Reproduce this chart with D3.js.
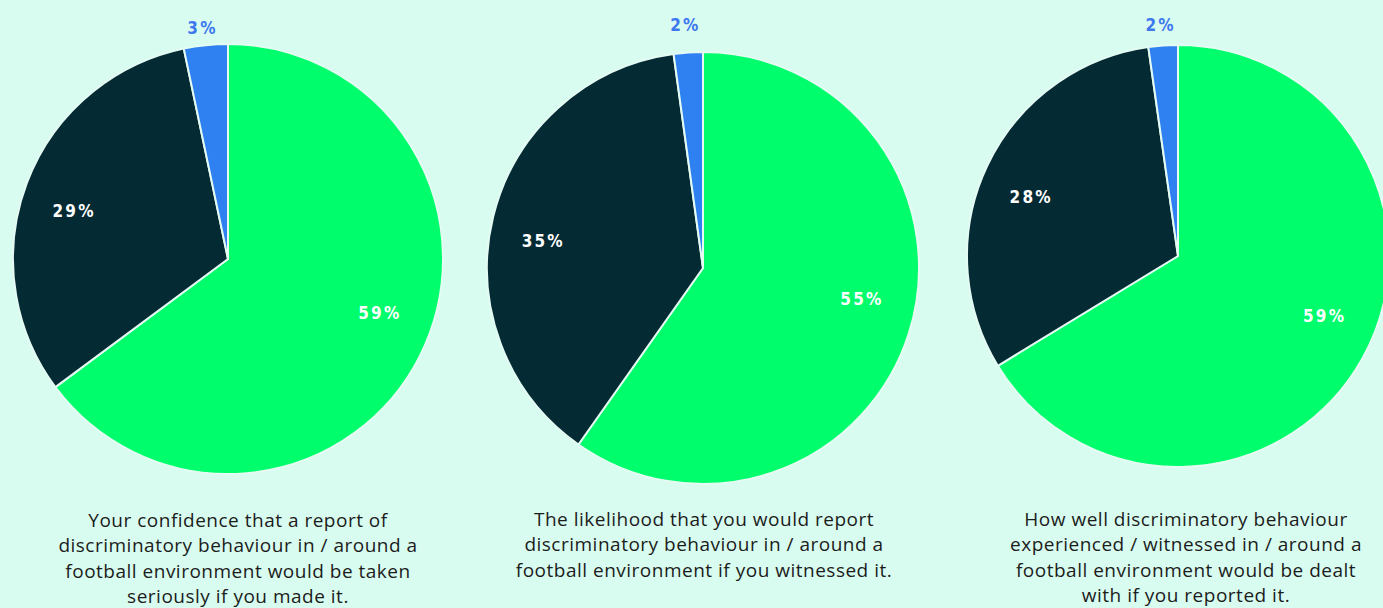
<!DOCTYPE html>
<html>
<head>
<meta charset="utf-8">
<script src="https://cdn.jsdelivr.net/npm/d3@7"></script>
<style>
  html, body { margin: 0; padding: 0; background: #d9fcf0; }
  svg { display: block; }
</style>
</head>
<body>
<svg id="chart" width="1383" height="608"></svg>
<script>
// Survey answers per question: share of respondents in each group
const categories = ["Positive", "Negative", "Unsure"];
const confidenceTakenSeriously = [59, 29, 3];
const likelihoodToReport = [55, 35, 2];
const howWellDealtWith = [59, 28, 2];

const captionLines = [
  ["Your confidence that a report of", "discriminatory behaviour in / around a", "football environment would be taken", "seriously if you made it."],
  ["The likelihood that you would report", "discriminatory behaviour in / around a", "football environment if you witnessed it."],
  ["How well discriminatory behaviour", "experienced / witnessed in / around a", "football environment would be dealt", "with if you reported it."]
];

const seriesList = [confidenceTakenSeriously, likelihoodToReport, howWellDealtWith];

// Layout of the three pies
const layout = [
  { cx: 228, cy: 259, r: 215, capX: 238, capY: 520, outer: 1.08 },
  { cx: 703, cy: 268, r: 216, capX: 704, capY: 519, outer: 1.13 },
  { cx: 1178, cy: 256, r: 211, capX: 1186, capY: 519, outer: 1.1 }
];

const color = d3.scaleOrdinal()
  .domain(categories)
  .range(["#00fd6c", "#042a33", "#2f80f0"]);

const labelColor = d3.scaleOrdinal()
  .domain(categories)
  .range(["#ffffff", "#ffffff", "#3d78ee"]);

const svg = d3.select("#chart");

const pie = d3.pie()
  .sort(null)
  .value(d => d.value);

// label point along the slice, slightly before its middle angle
function labelPoint(d, radius) {
  const a = d.startAngle + 0.47 * (d.endAngle - d.startAngle);
  return [radius * Math.sin(a), -radius * Math.cos(a)];
}

seriesList.forEach((values, i) => {
  const L = layout[i];
  const data = categories.map((c, k) => ({ category: c, value: values[k] }));
  const arcs = pie(data);

  const g = svg.append("g").attr("transform", `translate(${L.cx},${L.cy})`);

  const arc = d3.arc().innerRadius(0).outerRadius(L.r);

  g.selectAll("path.slice")
    .data(arcs)
    .join("path")
    .attr("class", "slice")
    .attr("d", arc)
    .attr("fill", d => color(d.data.category))
    .attr("stroke", "#e4fbf3")
    .attr("stroke-width", 2)
    .attr("stroke-linejoin", "round");

  g.selectAll("text.value")
    .data(arcs)
    .join("text")
    .attr("class", "value")
    .attr("transform", d => {
      const small = (d.endAngle - d.startAngle) < 0.3;
      const [x, y] = labelPoint(d, small ? L.r * L.outer : L.r * 0.75);
      return `translate(${x},${y})`;
    })
    .attr("text-anchor", "middle")
    .attr("dy", "0.36em")
    .attr("fill", d => labelColor(d.data.category))
    .style("font-family", "'DejaVu Sans Condensed', 'DejaVu Sans', sans-serif")
    .style("font-weight", "bold")
    .style("font-size", "17px")
    .style("letter-spacing", "2.2px")
    .text(d => d.data.value + "%");

  svg.append("text")
    .attr("x", L.capX)
    .attr("y", L.capY)
    .attr("text-anchor", "middle")
    .attr("fill", "#1c1c1c")
    .style("font-family", "'Open Sans', sans-serif")
    .style("font-size", "19px")
    .style("letter-spacing", "0.5px")
    .selectAll("tspan")
    .data(captionLines[i])
    .join("tspan")
    .attr("x", L.capX)
    .attr("dy", (d, k) => k === 0 ? "0.35em" : "25.5px")
    .text(d => d);
});
</script>
</body>
</html>
